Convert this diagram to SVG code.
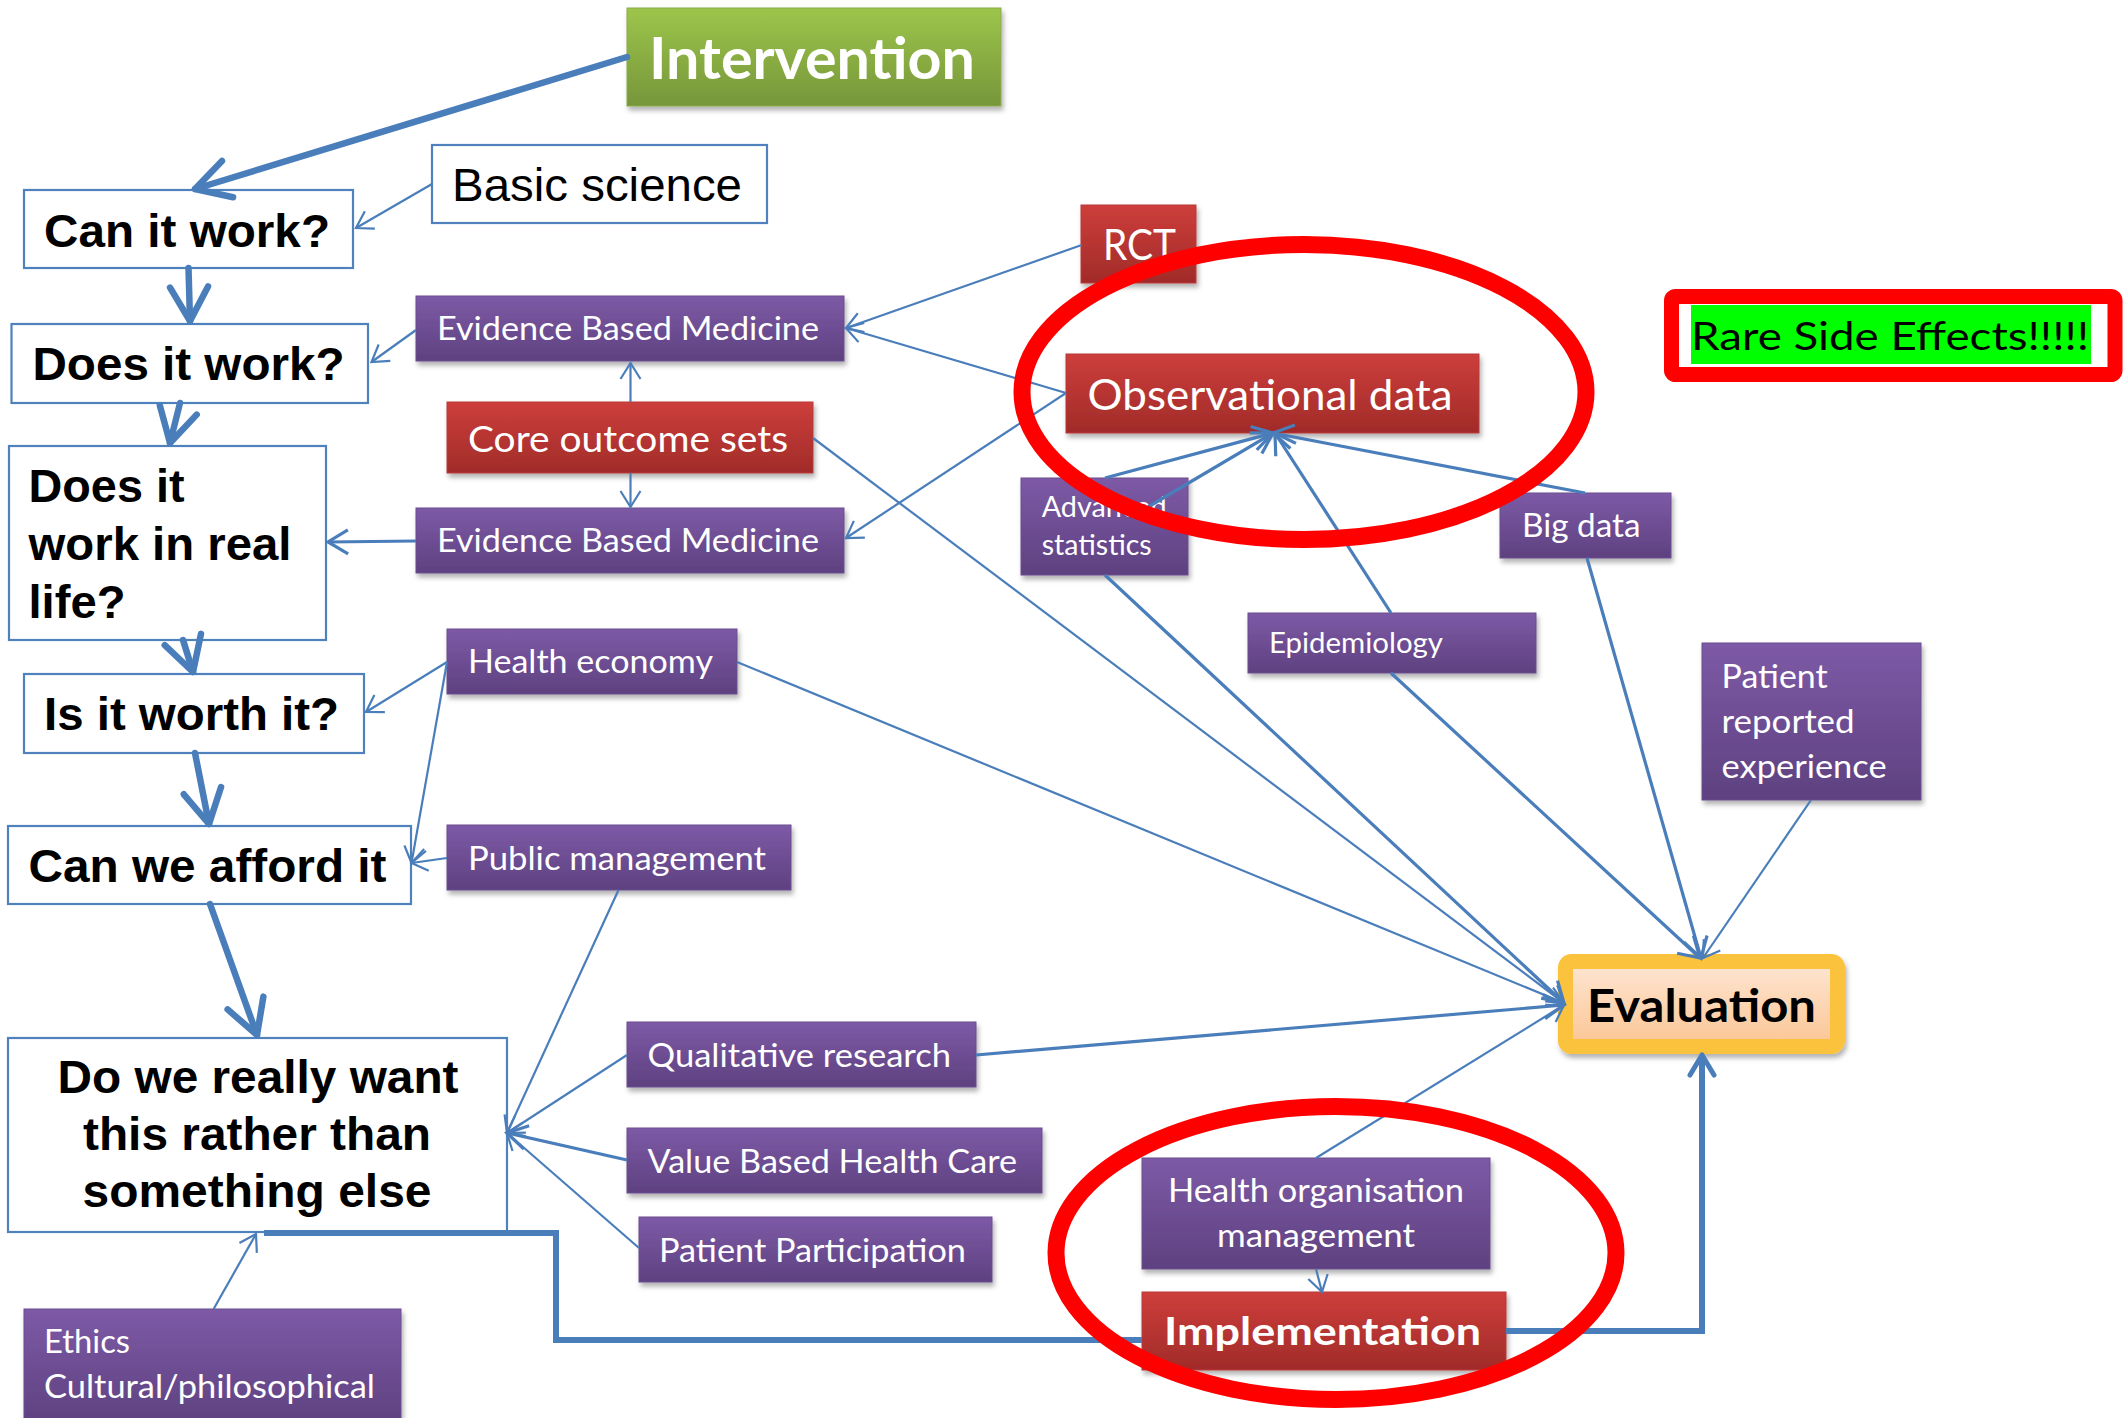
<svg xmlns="http://www.w3.org/2000/svg" width="2126" height="1418" viewBox="0 0 2126 1418">
  <style>
    .q { fill: #ffffff; stroke: #4f81bd; stroke-width: 2.2; }
    .qt { font-family: "Liberation Sans", Arial, sans-serif; font-weight: bold; font-size: 47px; fill: #000000; }
    .qn { font-family: "Liberation Sans", Arial, sans-serif; font-size: 47px; fill: #000000; }
    .purple { fill: url(#gPurple); stroke: #6a4c8e; stroke-width: 1; filter: url(#shadow); }
    .red { fill: url(#gRed); stroke: #b83a38; stroke-width: 1; filter: url(#shadow); }
    .green { fill: url(#gGreen); stroke: #8aaa4a; stroke-width: 1; filter: url(#shadow); }
    .lbl { font-family: Lato, "Open Sans", sans-serif; fill: #ffffff; }
    .lblb { font-family: Lato, "Open Sans", sans-serif; font-weight: bold; fill: #ffffff; }
    .thin { fill: none; stroke: #4a7ebb; stroke-width: 2.2; marker-end: url(#ahThin); }
    .mid { fill: none; stroke: #4a7ebb; stroke-width: 3.2; marker-end: url(#ahMid); }
    .thick { fill: none; stroke: #4a7ebb; stroke-width: 6.5; stroke-linecap: round; marker-end: url(#ahThick); }
    .route { fill: none; stroke: #4a7ebb; stroke-width: 6; stroke-linejoin: miter; }
    .ring { fill: none; stroke: #ff0000; stroke-width: 17; }
  </style>
  <defs>
    <linearGradient id="gPurple" x1="0" y1="0" x2="0" y2="1">
      <stop offset="0" stop-color="#7d5aa6"/>
      <stop offset="1" stop-color="#5e4180"/>
    </linearGradient>
    <linearGradient id="gRed" x1="0" y1="0" x2="0" y2="1">
      <stop offset="0" stop-color="#cd3e3b"/>
      <stop offset="1" stop-color="#a12b29"/>
    </linearGradient>
    <linearGradient id="gGreen" x1="0" y1="0" x2="0" y2="1">
      <stop offset="0" stop-color="#9dc54b"/>
      <stop offset="1" stop-color="#76963a"/>
    </linearGradient>
    <linearGradient id="gPeach" x1="0" y1="0" x2="0" y2="1">
      <stop offset="0" stop-color="#fee6d3"/>
      <stop offset="1" stop-color="#fbc594"/>
    </linearGradient>
    <filter id="shadow" x="-10%" y="-10%" width="120%" height="140%">
      <feDropShadow dx="2" dy="4" stdDeviation="2.5" flood-color="#000000" flood-opacity="0.3"/>
    </filter>
    <marker id="ahThin" markerUnits="userSpaceOnUse" viewBox="0 0 22 24" refX="19" refY="12" markerWidth="22" markerHeight="24" orient="auto" overflow="visible">
      <path d="M3,2 L19,12 L3,22" fill="none" stroke="#4a7ebb" stroke-width="2.2"/>
    </marker>
    <marker id="ahMid" markerUnits="userSpaceOnUse" viewBox="0 0 26 28" refX="23" refY="14" markerWidth="26" markerHeight="28" orient="auto" overflow="visible">
      <path d="M3,2 L23,14 L3,26" fill="none" stroke="#4a7ebb" stroke-width="3.2"/>
    </marker>
    <marker id="ahRoute" markerUnits="userSpaceOnUse" viewBox="0 0 30 30" refX="25" refY="15" markerWidth="30" markerHeight="30" orient="auto" overflow="visible">
      <path d="M5,3 L25,15 L5,27" fill="none" stroke="#4a7ebb" stroke-width="5" stroke-linecap="round" stroke-linejoin="round"/>
    </marker>
    <marker id="ahThick" markerUnits="userSpaceOnUse" viewBox="0 0 44 44" refX="40" refY="22" markerWidth="44" markerHeight="44" orient="auto" overflow="visible">
      <path d="M6,3 L40,22 L6,41" fill="none" stroke="#4a7ebb" stroke-width="6.5" stroke-linecap="round" stroke-linejoin="round"/>
    </marker>
  </defs>

  <rect width="2126" height="1418" fill="#ffffff"/>

  <!-- question chain on the left -->
  <g id="n-can-it-work"><rect class="q" x="24" y="190" width="329" height="78"/><text class="qt" x="44" y="247" textLength="286" lengthAdjust="spacingAndGlyphs">Can it work?</text></g>
  <g id="n-does-it-work"><rect class="q" x="11.5" y="324" width="356.5" height="79"/><text class="qt" x="32.5" y="380" textLength="312" lengthAdjust="spacingAndGlyphs">Does it work?</text></g>
  <g id="n-real-life"><rect class="q" x="9" y="446" width="317" height="194"/>
    <text class="qt" x="28.5" y="502" textLength="156" lengthAdjust="spacingAndGlyphs">Does it</text>
    <text class="qt" x="28.5" y="560" textLength="263" lengthAdjust="spacingAndGlyphs">work in real</text>
    <text class="qt" x="28.5" y="618" textLength="97" lengthAdjust="spacingAndGlyphs">life?</text></g>
  <g id="n-worth-it"><rect class="q" x="24" y="674" width="340" height="79"/><text class="qt" x="44" y="730" textLength="295" lengthAdjust="spacingAndGlyphs">Is it worth it?</text></g>
  <g id="n-afford"><rect class="q" x="8" y="826" width="403" height="78"/><text class="qt" x="28.5" y="882" textLength="358" lengthAdjust="spacingAndGlyphs">Can we afford it</text></g>
  <g id="n-rather"><rect class="q" x="8" y="1038" width="499" height="194"/>
    <text class="qt" x="258" y="1093" text-anchor="middle" textLength="401" lengthAdjust="spacingAndGlyphs">Do we really want</text>
    <text class="qt" x="257" y="1150" text-anchor="middle" textLength="348" lengthAdjust="spacingAndGlyphs">this rather than</text>
    <text class="qt" x="257" y="1207" text-anchor="middle" textLength="349" lengthAdjust="spacingAndGlyphs">something else</text></g>
  <g id="n-basic-science"><rect class="q" x="432" y="145" width="335" height="78"/><text class="qn" x="452" y="201" textLength="290" lengthAdjust="spacingAndGlyphs">Basic science</text></g>

  <!-- coloured nodes -->
  <g id="n-intervention"><rect class="green" x="627" y="8" width="374" height="98"/><text class="lblb" x="649" y="79" font-size="57" textLength="326" lengthAdjust="spacingAndGlyphs">Intervention</text></g>
  <g id="n-ebm-1"><rect class="purple" x="416" y="296" width="428" height="65"/><text class="lbl" x="437" y="340" font-size="33" textLength="382" lengthAdjust="spacingAndGlyphs">Evidence Based Medicine</text></g>
  <g id="n-core-outcome"><rect class="red" x="447" y="402" width="366" height="71"/><text class="lbl" x="468" y="452" font-size="37.5" textLength="320" lengthAdjust="spacingAndGlyphs">Core outcome sets</text></g>
  <g id="n-ebm-2"><rect class="purple" x="416" y="508" width="428" height="65"/><text class="lbl" x="437" y="552" font-size="33" textLength="382" lengthAdjust="spacingAndGlyphs">Evidence Based Medicine</text></g>
  <g id="n-health-economy"><rect class="purple" x="447" y="629" width="290" height="65"/><text class="lbl" x="468" y="673" font-size="33" textLength="245" lengthAdjust="spacingAndGlyphs">Health economy</text></g>
  <g id="n-public-management"><rect class="purple" x="447" y="825" width="344" height="65"/><text class="lbl" x="468" y="870" font-size="33" textLength="298" lengthAdjust="spacingAndGlyphs">Public management</text></g>
  <g id="n-qualitative"><rect class="purple" x="627" y="1022" width="349" height="65"/><text class="lbl" x="647.5" y="1067" font-size="33" textLength="303.5" lengthAdjust="spacingAndGlyphs">Qualitative research</text></g>
  <g id="n-value-based"><rect class="purple" x="627" y="1128" width="415" height="65"/><text class="lbl" x="647.5" y="1173" font-size="33" textLength="369.5" lengthAdjust="spacingAndGlyphs">Value Based Health Care</text></g>
  <g id="n-participation"><rect class="purple" x="639" y="1217" width="353" height="65"/><text class="lbl" x="659" y="1262" font-size="33" textLength="307" lengthAdjust="spacingAndGlyphs">Patient Participation</text></g>
  <g id="n-ethics"><rect class="purple" x="24" y="1309" width="377" height="115"/>
    <text class="lbl" x="44" y="1353" font-size="33" textLength="86" lengthAdjust="spacingAndGlyphs">Ethics</text>
    <text class="lbl" x="44" y="1398" font-size="33" textLength="331" lengthAdjust="spacingAndGlyphs">Cultural/philosophical</text></g>
  <g id="n-rct"><rect class="red" x="1081" y="205" width="115" height="78"/><text class="lbl" x="1103" y="260" font-size="42" textLength="73" lengthAdjust="spacingAndGlyphs">RCT</text></g>
  <g id="n-observational"><rect class="red" x="1066" y="354" width="413" height="79"/><text class="lbl" x="1087.6" y="410" font-size="42" textLength="365" lengthAdjust="spacingAndGlyphs">Observational data</text></g>
  <g id="n-advanced-stats"><rect class="purple" x="1021" y="478" width="167" height="97"/>
    <text class="lbl" x="1041.7" y="517" font-size="28" textLength="125" lengthAdjust="spacingAndGlyphs">Advanced</text>
    <text class="lbl" x="1041.7" y="555" font-size="28" textLength="110" lengthAdjust="spacingAndGlyphs">statistics</text></g>
  <g id="n-big-data"><rect class="purple" x="1500" y="493" width="171" height="65"/><text class="lbl" x="1522" y="537" font-size="33" textLength="118.5" lengthAdjust="spacingAndGlyphs">Big data</text></g>
  <g id="n-epidemiology"><rect class="purple" x="1248" y="613" width="288" height="60"/><text class="lbl" x="1269" y="653" font-size="28" textLength="174" lengthAdjust="spacingAndGlyphs">Epidemiology</text></g>
  <g id="n-patient-reported"><rect class="purple" x="1702" y="643" width="219" height="157"/>
    <text class="lbl" x="1721.6" y="688" font-size="33" textLength="106" lengthAdjust="spacingAndGlyphs">Patient</text>
    <text class="lbl" x="1721.6" y="733" font-size="33" textLength="133" lengthAdjust="spacingAndGlyphs">reported</text>
    <text class="lbl" x="1721.6" y="778" font-size="33" textLength="165" lengthAdjust="spacingAndGlyphs">experience</text></g>
  <g id="n-health-org"><rect class="purple" x="1142" y="1158" width="348" height="111"/>
    <text class="lbl" x="1316" y="1202" font-size="33" text-anchor="middle" textLength="296" lengthAdjust="spacingAndGlyphs">Health organisation</text>
    <text class="lbl" x="1316" y="1247" font-size="33" text-anchor="middle" textLength="198" lengthAdjust="spacingAndGlyphs">management</text></g>
  <g id="n-implementation"><rect class="red" x="1142" y="1292" width="364" height="78"/><text class="lblb" x="1164" y="1345" font-size="39" textLength="317" lengthAdjust="spacingAndGlyphs">Implementation</text></g>
  <g id="n-evaluation">
    <rect x="1565.5" y="961.5" width="272" height="85" rx="6" fill="url(#gPeach)" stroke="#fbc23c" stroke-width="15" filter="url(#shadow)"/>
    <text x="1587" y="1022" font-family="Lato, 'Open Sans', sans-serif" font-weight="bold" font-size="46" fill="#000000" textLength="229" lengthAdjust="spacingAndGlyphs">Evaluation</text></g>
  <g id="n-rare-side-effects">
    <rect x="1671.5" y="296.5" width="443.5" height="78" rx="4" fill="#ffffff" stroke="#ff0000" stroke-width="15"/>
    <rect x="1691" y="305" width="400" height="59" fill="#00ff00"/>
    <text x="1691" y="350" font-family="Lato, 'Open Sans', sans-serif" font-size="39" fill="#000000" textLength="398" lengthAdjust="spacingAndGlyphs">Rare Side Effects!!!!!</text></g>

  <!-- connectors -->
  <g id="connectors">
    <!-- main question chain -->
    <line class="thick" x1="627" y1="57" x2="195" y2="189"/>
    <line class="thick" x1="188.5" y1="268" x2="190" y2="321"/>
    <line class="thick" x1="180" y1="403" x2="170" y2="443"/>
    <line class="thick" x1="183" y1="640" x2="193" y2="672"/>
    <line class="thick" x1="195" y1="753" x2="209" y2="824"/>
    <line class="thick" x1="210" y1="904" x2="257" y2="1035"/>
    <!-- feedback route through implementation -->
    <polyline class="route" points="264,1233 556,1233 556,1340 1142,1340"/>
    <polyline class="route" points="1506,1331 1702,1331 1702,1055" marker-end="url(#ahRoute)"/>
    <!-- inputs to the question chain -->
    <line class="thin" x1="432" y1="184" x2="356" y2="228"/>
    <line class="thin" x1="416" y1="330" x2="371.5" y2="362"/>
    <line class="thin" x1="630.5" y1="402" x2="630.5" y2="363"/>
    <line class="thin" x1="630.5" y1="473" x2="630.5" y2="507"/>
    <line class="thin" x1="1081.7" y1="245" x2="846" y2="328"/>
    <line class="thin" x1="1066" y1="393" x2="846" y2="328"/>
    <line class="thin" x1="1066" y1="393" x2="846" y2="538"/>
    <line class="mid" x1="416" y1="541" x2="328" y2="542"/>
    <line class="thin" x1="447" y1="662" x2="366" y2="712"/>
    <line class="thin" x1="447" y1="662" x2="411.5" y2="863"/>
    <line class="thin" x1="447" y1="858" x2="411.5" y2="863"/>
    <line class="thin" x1="618.5" y1="890" x2="507" y2="1133"/>
    <line class="thin" x1="627" y1="1055" x2="507" y2="1133"/>
    <line class="mid" x1="627" y1="1160" x2="507" y2="1133"/>
    <line class="thin" x1="639" y1="1248" x2="507" y2="1133"/>
    <line class="thin" x1="213.6" y1="1309" x2="256" y2="1234"/>
    <!-- feeds into observational data -->
    <line class="mid" x1="1105" y1="478" x2="1273" y2="433"/>
    <line class="mid" x1="1148" y1="507" x2="1273" y2="433"/>
    <line class="mid" x1="1585" y1="493" x2="1273" y2="433" stroke-width="4"/>
    <line class="mid" x1="1391" y1="613" x2="1275" y2="433"/>
    <!-- feeds into evaluation -->
    <line class="thin" x1="813" y1="438" x2="1564" y2="1003"/>
    <line class="mid" x1="1105" y1="575" x2="1564" y2="1003"/>
    <line class="thin" x1="737" y1="662" x2="1564" y2="1003"/>
    <line class="mid" x1="976" y1="1055" x2="1564" y2="1005"/>
    <line class="thin" x1="1316" y1="1158" x2="1564" y2="1005"/>
    <line class="mid" x1="1391" y1="673" x2="1700" y2="958"/>
    <line class="mid" x1="1587" y1="558" x2="1701" y2="958"/>
    <line class="thin" x1="1811" y1="800" x2="1703" y2="958"/>
    <line class="thin" x1="1316" y1="1269" x2="1322" y2="1292"/>
  </g>

  <!-- highlight rings -->
  <ellipse class="ring" cx="1304" cy="392" rx="282" ry="147.5"/>
  <ellipse class="ring" cx="1336" cy="1253" rx="280" ry="146.5"/>
</svg>
